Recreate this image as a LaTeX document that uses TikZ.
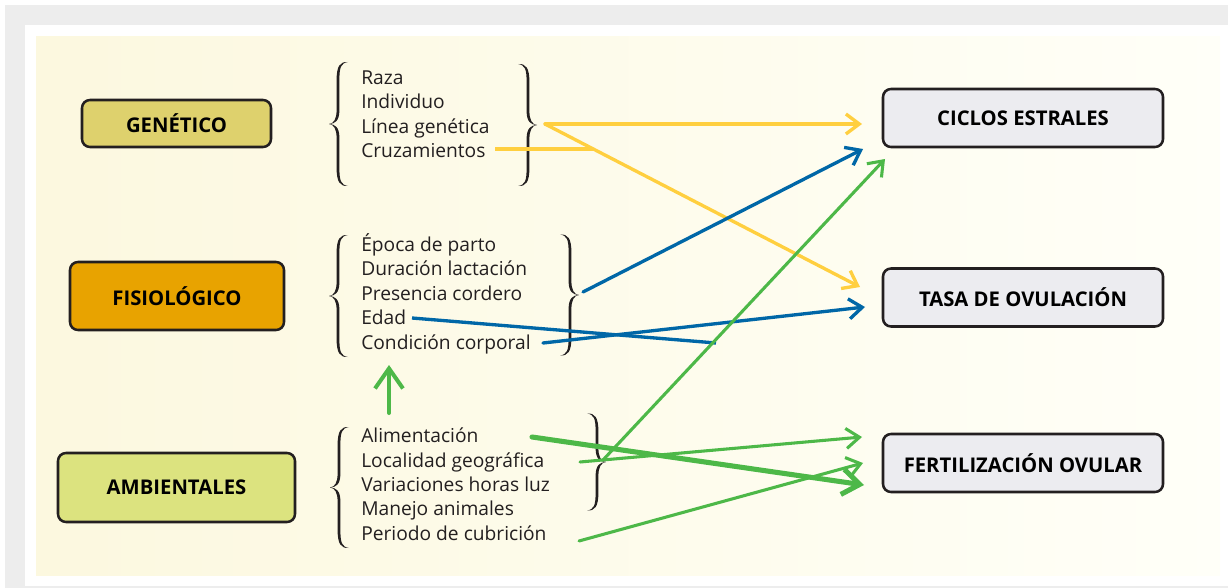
\documentclass[tikz,border=0pt]{standalone}
\usepackage{fontspec}
\setmainfont{Open Sans}
\usetikzlibrary{arrows.meta}
\definecolor{ylw}{HTML}{FFCF3F}
\definecolor{blu}{HTML}{0067A7}
\definecolor{grn}{HTML}{4DB848}
\definecolor{genfill}{HTML}{DED16D}
\definecolor{fisfill}{HTML}{E8A300}
\definecolor{ambfill}{HTML}{DCE37F}
\definecolor{outfill}{HTML}{ECECF0}
\definecolor{cream}{HTML}{FCF8DF}
\definecolor{creamR}{HTML}{FFFFF8}
\definecolor{ink}{HTML}{231F20}
\definecolor{shadow}{HTML}{EDEDED}
% #1 = spine x, #2 = centre y, #3 = height, #4 = +1 (left brace) or -1 (right brace)
\newcommand\mybrace[4]{%
  \fill[ink]
    ({#1+10*#4},{#2-#3/2}) .. controls ({#1+2*#4},{#2-#3/2-0.5}) and ({#1-1.4*#4},{#2-#3/2+4}) .. ({#1-1.4*#4},{#2-#3/2+18})
    -- ({#1-1.4*#4},{#2-14}) .. controls ({#1-1.4*#4},{#2-5}) and ({#1-4*#4},{#2-0.6}) .. ({#1-9*#4},{#2})
    .. controls ({#1-4*#4},{#2+0.6}) and ({#1-1.4*#4},{#2+5}) .. ({#1-1.4*#4},{#2+14})
    -- ({#1-1.4*#4},{#2+#3/2-18}) .. controls ({#1-1.4*#4},{#2+#3/2-4}) and ({#1+2*#4},{#2+#3/2+0.5}) .. ({#1+10*#4},{#2+#3/2})
    .. controls ({#1+3*#4},{#2+#3/2-1}) and ({#1+1.4*#4},{#2+#3/2-5}) .. ({#1+1.4*#4},{#2+#3/2-18})
    -- ({#1+1.4*#4},{#2+14}) .. controls ({#1+1.4*#4},{#2+3}) and ({#1-3*#4},{#2+0.2}) .. ({#1-9*#4},{#2})
    .. controls ({#1-3*#4},{#2-0.2}) and ({#1+1.4*#4},{#2-3}) .. ({#1+1.4*#4},{#2-14})
    -- ({#1+1.4*#4},{#2-#3/2+18}) .. controls ({#1+1.4*#4},{#2-#3/2+5}) and ({#1+3*#4},{#2-#3/2+1}) .. ({#1+10*#4},{#2-#3/2})
    -- cycle;}
\begin{document}
\begin{tikzpicture}[x=0.75pt,y=-0.75pt,
  catbox/.style={draw=ink, line width=1.9pt, rounded corners=6pt, inner sep=0pt,
     font=\bfseries\fontsize{15.2}{17}\selectfont, text=black},
  item/.style={anchor=base west, inner sep=0pt, font=\fontsize{14.4}{16}\selectfont, text=ink},
  arr/.style={-{Straight Barb[length=10pt,width=15pt]}, line cap=round},
  yline/.style={draw=ylw, line width=2.5pt},
  bline/.style={draw=blu, line width=2.5pt},
  gline/.style={draw=grn, line width=2.3pt},
  gthick/.style={draw=grn, line width=3.8pt, -{Straight Barb[length=13pt,width=19pt]}, line cap=round}
]
\useasboundingbox (0,0) rectangle (1228,588);
% background
\fill[white] (0,0) rectangle (1228,588);
\fill[shadow] (5,5) rectangle (1228,588);
\fill[white] (25,25) rectangle (1228,586);
\shade[left color=cream, right color=creamR] (36,37) rectangle (1220,575);

% category boxes
\node[catbox, fill=genfill, minimum width=141.75pt, minimum height=35.25pt] (gen) at (176.5,123.5) {GENÉTICO};
\node[catbox, fill=fisfill, minimum width=160.5pt, minimum height=51pt] (fis) at (177,296) {FISIOLÓGICO};
\node[catbox, fill=ambfill, minimum width=177.75pt, minimum height=51.75pt] (amb) at (176.5,487.5) {AMBIENTALES};

% outcome boxes
\node[catbox, fill=outfill, minimum width=210pt, minimum height=43.5pt] (cic) at (1023,118) {CICLOS ESTRALES};
\node[catbox, fill=outfill, minimum width=210pt, minimum height=43.5pt] (tasa) at (1023,297.5) {TASA DE OVULACIÓN};
\node[catbox, fill=outfill, minimum width=210pt, minimum height=43.5pt] (fert) at (1023,463) {FERTILIZACIÓN OVULAR};

% lists
\node[item] (raza) at (361,84.3) {Raza};
\node[item] (indiv) at (361,108.7) {Individuo};
\node[item] (linea) at (361,133.1) {Línea genética};
\node[item] (cruz) at (361,157.5) {Cruzamientos};

\node[item] (epoca) at (361,251.5) {Época de parto};
\node[item] (durac) at (361,275.9) {Duración lactación};
\node[item] (pres) at (361,300.3) {Presencia cordero};
\node[item] (edad) at (361,324.7) {Edad};
\node[item] (cond) at (361,349.1) {Condición corporal};

\node[item] (alim) at (361,442.7) {Alimentación};
\node[item] (loc) at (361,467) {Localidad geográfica};
\node[item] (var) at (361,491.3) {Variaciones horas luz};
\node[item] (man) at (361,515.6) {Manejo animales};
\node[item] (per) at (361,540) {Periodo de cubrición};

% braces
\mybrace{338}{124}{124}{1}
\mybrace{528}{125}{122}{-1}
\mybrace{338}{296}{122}{1}
\mybrace{570}{295}{121}{-1}
\mybrace{339}{487.5}{121}{1}
\mybrace{597}{462}{97}{-1}

% connector end points
\coordinate (gTip) at (545,124);
\coordinate (cicY) at (862,124);
\coordinate (tasaY) at (860,287);
\coordinate (cruzEnd) at (495,149);
\coordinate (cruzJoin) at (593,149);
\coordinate (fTip) at (583,292);
\coordinate (cicB) at (863,149);
\coordinate (condEnd) at (543,343);
\coordinate (tasaB) at (865,307);
\coordinate (edadEnd) at (412,318);
\coordinate (edadJoin) at (716,343);
\coordinate (aTip) at (603,460);
\coordinate (cicG) at (885,159);
\coordinate (locEnd) at (580,462);
\coordinate (fertG1) at (862,437);
\coordinate (alimEnd) at (532,437);
\coordinate (fertG3) at (864,485);
\coordinate (perEnd) at (579,541);
\coordinate (fertG2) at (863,463);
\coordinate (upS) at (389,413);
\coordinate (upE) at (389,365);

% yellow
\draw[yline, arr] (gTip) -- (cicY);
\draw[yline, arr] (gTip) -- (tasaY);
\draw[yline] (cruzEnd) -- (cruzJoin);
% blue
\draw[bline, arr] (fTip) -- (cicB);
\draw[bline, arr] (condEnd) -- (tasaB);
\draw[bline] (edadEnd) -- (edadJoin);
% green
\draw[gline, arr] (aTip) -- (cicG);
\draw[gline, arr] (locEnd) -- (fertG1);
\draw[gline, arr] (perEnd) -- (fertG2);
\draw[gthick] (alimEnd) -- (fertG3);
\draw[draw=grn, line width=3pt, -{Straight Barb[length=15pt,width=21pt]}, line cap=round] (upS) -- (upE);
\end{tikzpicture}
\end{document}
